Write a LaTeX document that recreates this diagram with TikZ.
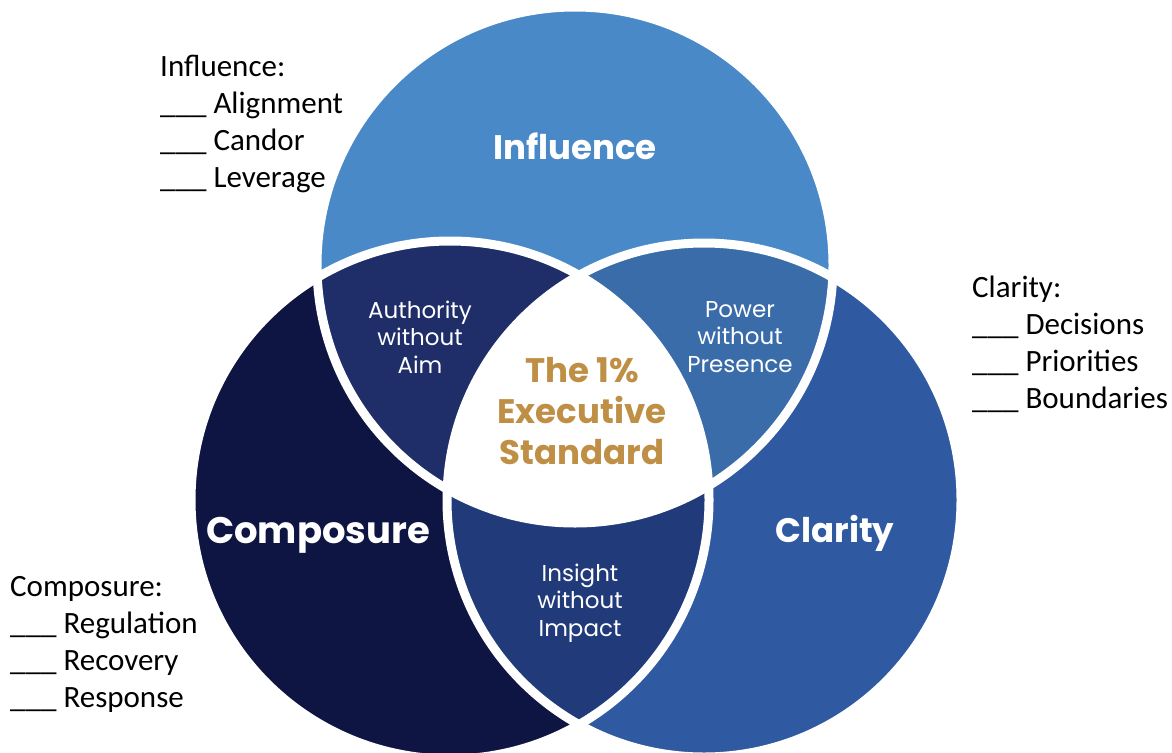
\documentclass[tikz,border=0pt]{standalone}
\usepackage{fontspec}
\newfontfamily\popfont{Poppins}
\newfontfamily\carlitofont{Carlito}
\definecolor{cInf}{RGB}{74,137,200}
\definecolor{cCom}{RGB}{14,21,66}
\definecolor{cCla}{RGB}{47,90,162}
\definecolor{cAut}{RGB}{31,45,105}
\definecolor{cPow}{RGB}{58,108,170}
\definecolor{cIns}{RGB}{33,58,122}
\definecolor{cGold}{RGB}{191,143,69}
\tikzset{
  bigtitle/.style={text=white,font={\popfont\bfseries\fontsize{34}{40}\selectfont},inner sep=0pt},
  midtitle/.style={text=cGold,align=center,font={\popfont\bfseries\fontsize{34}{41}\selectfont},inner sep=0pt},
  lenstext/.style={text=white,align=center,font={\popfont\fontsize{23}{27.5}\selectfont},inner sep=0pt},
  listtext/.style={text=black,anchor=base west,font={\carlitofont\fontsize{31}{34}\selectfont},inner sep=0pt},
  ring/.style={draw=white,line width=9pt}
}
\begin{document}
\begin{tikzpicture}[x=1pt,y=-1pt]
\useasboundingbox (0,0) rectangle (1172,752);
\clip (0,0) rectangle (1172,752);
\coordinate (T) at (575,265);
\coordinate (L) at (450,500);
\coordinate (R) at (704,500);
% base discs
\fill[cInf] (T) circle[radius=258pt];
\fill[cCom] (L) circle[radius=259pt];
\fill[cCla] (R) circle[radius=257pt];
% pairwise overlaps
\begin{scope}
  \clip (T) circle[radius=258pt];
  \fill[cAut] (L) circle[radius=259pt];
\end{scope}
\begin{scope}
  \clip (T) circle[radius=258pt];
  \fill[cPow] (R) circle[radius=257pt];
\end{scope}
\begin{scope}
  \clip (L) circle[radius=259pt];
  \fill[cIns] (R) circle[radius=257pt];
\end{scope}
% triple overlap
\begin{scope}
  \clip (T) circle[radius=258pt];
  \clip (L) circle[radius=259pt];
  \fill[white] (R) circle[radius=257pt];
\end{scope}
% white outlines
\draw[ring] (T) circle[radius=258pt];
\draw[ring] (L) circle[radius=259pt];
\draw[ring] (R) circle[radius=257pt];
% titles
\node[bigtitle] (inf) at (575,146) {Influence};
\node[bigtitle,font={\popfont\bfseries\fontsize{37}{44}\selectfont}] (com) at (318,535) {Composure};
\node[bigtitle] (cla) at (835,533) {Clarity};
\node[midtitle] (std) at (582,411) {The 1\%\\Executive\\Standard};
% lens texts
\node[lenstext] (aut) at (420,337) {Authority\\without\\Aim};
\node[lenstext] (pow) at (740,337) {Power\\without\\Presence};
\node[lenstext] (ins) at (580,603) {Insight\\without\\Impact};
% side lists
\node[listtext] (li0) at (160,77) {Influence:};
\node[listtext] (li1) at (160,113) {\_\_\_ Alignment};
\node[listtext] (li2) at (160,150) {\_\_\_ Candor};
\node[listtext] (li3) at (160,187) {\_\_\_ Leverage};
\node[listtext] (lc0) at (972,297) {Clarity:};
\node[listtext] (lc1) at (972,334) {\_\_\_ Decisions};
\node[listtext] (lc2) at (972,371) {\_\_\_ Priorities};
\node[listtext] (lc3) at (972,408) {\_\_\_ Boundaries};
\node[listtext] (lp0) at (10,596) {Composure:};
\node[listtext] (lp1) at (10,633) {\_\_\_ Regulation};
\node[listtext] (lp2) at (10,670) {\_\_\_ Recovery};
\node[listtext] (lp3) at (10,707) {\_\_\_ Response};
\end{tikzpicture}
\end{document}
